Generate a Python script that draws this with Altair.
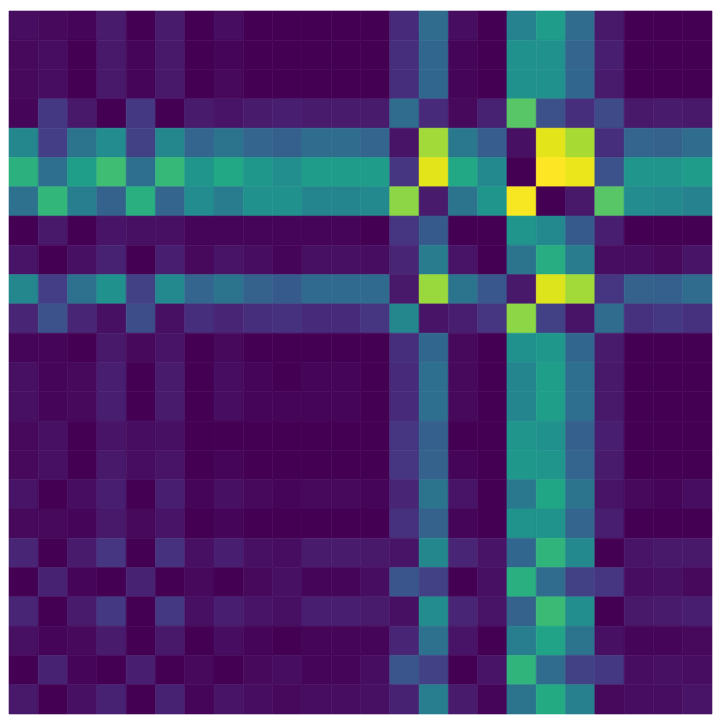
import altair as alt
import pandas as pd

# 24x24 matrix, one list per row (top to bottom), values 0..1 on viridis
r00 = [0.03, 0.02, 0.01, 0.07, 0.00, 0.07, 0.00, 0.03, 0.00, 0.00, 0.00, 0.00, 0.00, 0.12, 0.35, 0.03, 0.00, 0.44, 0.55, 0.35, 0.06, 0.00, 0.00, 0.00]
r01 = [0.02, 0.03, 0.00, 0.06, 0.01, 0.06, 0.00, 0.01, 0.00, 0.00, 0.00, 0.00, 0.00, 0.13, 0.33, 0.01, 0.00, 0.50, 0.50, 0.32, 0.08, 0.00, 0.00, 0.00]
r02 = [0.02, 0.03, 0.00, 0.06, 0.01, 0.06, 0.00, 0.02, 0.00, 0.00, 0.00, 0.00, 0.00, 0.13, 0.33, 0.01, 0.00, 0.50, 0.50, 0.33, 0.07, 0.00, 0.00, 0.00]
r03 = [0.01, 0.16, 0.06, 0.00, 0.16, 0.00, 0.07, 0.05, 0.07, 0.08, 0.07, 0.07, 0.07, 0.35, 0.12, 0.02, 0.09, 0.74, 0.24, 0.13, 0.22, 0.06, 0.07, 0.06]
r04 = [0.46, 0.18, 0.38, 0.48, 0.19, 0.46, 0.32, 0.38, 0.32, 0.30, 0.35, 0.35, 0.32, 0.05, 0.86, 0.40, 0.29, 0.04, 0.96, 0.87, 0.13, 0.32, 0.31, 0.35]
r05 = [0.64, 0.36, 0.56, 0.69, 0.36, 0.67, 0.52, 0.60, 0.53, 0.49, 0.55, 0.55, 0.55, 0.15, 0.96, 0.60, 0.47, 0.00, 1.00, 0.97, 0.25, 0.52, 0.52, 0.55]
r06 = [0.37, 0.66, 0.42, 0.31, 0.63, 0.32, 0.48, 0.41, 0.50, 0.50, 0.45, 0.45, 0.47, 0.83, 0.07, 0.38, 0.52, 0.99, 0.00, 0.06, 0.74, 0.48, 0.47, 0.44]
r07 = [0.00, 0.06, 0.00, 0.05, 0.04, 0.04, 0.01, 0.01, 0.01, 0.01, 0.01, 0.01, 0.00, 0.15, 0.28, 0.00, 0.00, 0.52, 0.47, 0.28, 0.08, 0.00, 0.00, 0.00]
r08 = [0.05, 0.00, 0.04, 0.09, 0.00, 0.08, 0.02, 0.05, 0.03, 0.01, 0.04, 0.04, 0.03, 0.10, 0.41, 0.05, 0.00, 0.38, 0.62, 0.41, 0.03, 0.03, 0.02, 0.05]
r09 = [0.46, 0.18, 0.37, 0.50, 0.19, 0.47, 0.32, 0.38, 0.31, 0.28, 0.34, 0.34, 0.34, 0.06, 0.85, 0.38, 0.27, 0.06, 0.95, 0.86, 0.15, 0.31, 0.30, 0.35]
r10 = [0.10, 0.25, 0.10, 0.04, 0.23, 0.04, 0.13, 0.10, 0.13, 0.14, 0.12, 0.12, 0.15, 0.46, 0.05, 0.08, 0.15, 0.83, 0.19, 0.05, 0.35, 0.14, 0.16, 0.14]
r11 = [0.01, 0.01, 0.00, 0.06, 0.02, 0.05, 0.00, 0.02, 0.00, 0.00, 0.00, 0.00, 0.00, 0.13, 0.33, 0.02, 0.00, 0.50, 0.53, 0.33, 0.07, 0.00, 0.00, 0.00]
r12 = [0.04, 0.01, 0.02, 0.08, 0.00, 0.07, 0.00, 0.03, 0.01, 0.00, 0.01, 0.01, 0.00, 0.12, 0.36, 0.02, 0.00, 0.45, 0.56, 0.36, 0.06, 0.00, 0.00, 0.00]
r13 = [0.04, 0.01, 0.02, 0.08, 0.00, 0.07, 0.00, 0.03, 0.01, 0.01, 0.01, 0.01, 0.00, 0.12, 0.36, 0.02, 0.00, 0.45, 0.56, 0.36, 0.06, 0.00, 0.00, 0.00]
r14 = [0.02, 0.04, 0.00, 0.05, 0.03, 0.04, 0.00, 0.00, 0.00, 0.00, 0.00, 0.00, 0.00, 0.15, 0.30, 0.00, 0.00, 0.52, 0.50, 0.30, 0.08, 0.00, 0.00, 0.00]
r15 = [0.02, 0.04, 0.00, 0.06, 0.03, 0.05, 0.00, 0.01, 0.00, 0.00, 0.00, 0.00, 0.00, 0.15, 0.31, 0.01, 0.00, 0.53, 0.52, 0.32, 0.07, 0.00, 0.00, 0.00]
r16 = [0.05, 0.00, 0.03, 0.08, 0.00, 0.08, 0.01, 0.04, 0.02, 0.01, 0.02, 0.02, 0.01, 0.10, 0.38, 0.05, 0.00, 0.40, 0.59, 0.38, 0.05, 0.02, 0.01, 0.03]
r17 = [0.02, 0.02, 0.01, 0.06, 0.02, 0.05, 0.00, 0.01, 0.00, 0.00, 0.00, 0.00, 0.00, 0.14, 0.31, 0.01, 0.00, 0.51, 0.51, 0.32, 0.08, 0.00, 0.00, 0.00]
r18 = [0.10, 0.00, 0.07, 0.15, 0.00, 0.14, 0.04, 0.08, 0.04, 0.03, 0.07, 0.07, 0.06, 0.05, 0.46, 0.10, 0.05, 0.33, 0.65, 0.47, 0.00, 0.05, 0.06, 0.06]
r19 = [0.00, 0.09, 0.01, 0.00, 0.09, 0.00, 0.02, 0.00, 0.02, 0.04, 0.01, 0.01, 0.03, 0.26, 0.19, 0.00, 0.04, 0.63, 0.35, 0.19, 0.15, 0.03, 0.04, 0.02]
r20 = [0.10, 0.00, 0.07, 0.16, 0.00, 0.16, 0.04, 0.08, 0.05, 0.04, 0.08, 0.08, 0.07, 0.04, 0.48, 0.10, 0.05, 0.31, 0.68, 0.49, 0.00, 0.06, 0.07, 0.08]
r21 = [0.04, 0.01, 0.02, 0.07, 0.00, 0.06, 0.00, 0.03, 0.01, 0.00, 0.01, 0.01, 0.01, 0.10, 0.37, 0.05, 0.00, 0.42, 0.58, 0.38, 0.04, 0.01, 0.01, 0.02]
r22 = [0.00, 0.09, 0.01, 0.00, 0.08, 0.00, 0.02, 0.00, 0.02, 0.03, 0.01, 0.01, 0.03, 0.26, 0.19, 0.00, 0.05, 0.65, 0.35, 0.19, 0.16, 0.03, 0.04, 0.03]
r23 = [0.06, 0.00, 0.04, 0.09, 0.00, 0.09, 0.01, 0.05, 0.03, 0.02, 0.03, 0.03, 0.04, 0.09, 0.42, 0.07, 0.01, 0.38, 0.61, 0.43, 0.02, 0.03, 0.03, 0.05]

rows = [r00, r01, r02, r03, r04, r05, r06, r07, r08, r09, r10, r11,
        r12, r13, r14, r15, r16, r17, r18, r19, r20, r21, r22, r23]

records = []
for i, row in enumerate(rows):
    for j, v in enumerate(row):
        records.append({"row": i, "col": j, "value": v})
df = pd.DataFrame(records)

order = list(range(24))
cscale = alt.Scale(scheme="viridis", domain=[0, 1])

chart = alt.Chart(df).mark_rect(strokeWidth=0.6).encode(
    x=alt.X("col:O", sort=order, axis=None,
            scale=alt.Scale(paddingInner=0, paddingOuter=0)),
    y=alt.Y("row:O", sort=order, axis=None,
            scale=alt.Scale(paddingInner=0, paddingOuter=0)),
    color=alt.Color("value:Q", legend=None, scale=cscale),
    stroke=alt.Stroke("value:Q", legend=None, scale=cscale),
).properties(
    width=707, height=707, padding=0
).configure_view(stroke=None)

chart.save("out.html", embed_options={"renderer": "svg", "actions": False})
